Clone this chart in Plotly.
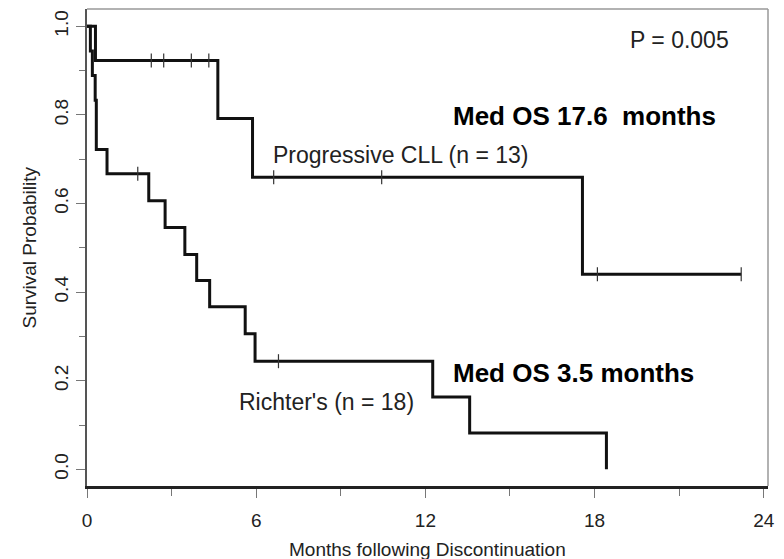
import plotly.graph_objects as go

# Kaplan-Meier step data
prog_times = [0, 0.30, 4.64, 5.87, 17.57, 23.2]
prog_surv = [1.0, 0.923, 0.792, 0.659, 0.440, 0.440]
prog_cens_t = [2.28, 2.72, 3.70, 4.32, 6.62, 10.45, 18.1, 23.2]
prog_cens_s = [0.923, 0.923, 0.923, 0.923, 0.659, 0.659, 0.440, 0.440]

rich_times = [0, 0.12, 0.19, 0.29, 0.33, 0.71, 2.19, 2.77, 3.47, 3.89, 4.35, 5.61, 5.96, 12.26, 13.57, 18.42]
rich_surv = [1.0, 0.944, 0.889, 0.833, 0.722, 0.667, 0.606, 0.546, 0.485, 0.426, 0.367, 0.306, 0.244, 0.163, 0.082, 0.0]
rich_cens_t = [1.80, 6.79]
rich_cens_s = [0.667, 0.244]

x_ticks = [0, 6, 12, 18, 24]
y_ticks = [0.0, 0.2, 0.4, 0.6, 0.8, 1.0]
y_ticklabels = ["0.0", "0.2", "0.4", "0.6", "0.8", "1.0"]

FONT = "Liberation Sans, Arial, sans-serif"
TXT = "#222222"

fig = go.Figure()
for t, s in [(prog_times, prog_surv), (rich_times, rich_surv)]:
    fig.add_trace(go.Scatter(x=t, y=s, mode="lines", line=dict(shape="hv", color="#111111", width=3),
                             showlegend=False, hoverinfo="skip"))
for t, s in [(prog_cens_t, prog_cens_s), (rich_cens_t, rich_cens_s)]:
    fig.add_trace(go.Scatter(x=t, y=s, mode="markers",
                             marker=dict(symbol="line-ns", size=10, line=dict(color="#333333", width=1.2)),
                             showlegend=False, hoverinfo="skip"))

fig.update_layout(
    width=784, height=559,
    margin=dict(l=87, r=16, t=9, b=73),
    paper_bgcolor="white", plot_bgcolor="white",
    font=dict(family=FONT, color=TXT, size=19),
    xaxis=dict(range=[0, 24.15], tickvals=x_ticks, ticktext=[str(v) for v in x_ticks],
               showgrid=False, zeroline=False, showline=True, linecolor="#222222", linewidth=2.5,
               ticks="outside", ticklen=9, tickcolor="#777777", tickwidth=1.2,
               minor=dict(tickvals=[3, 9, 15, 21], ticks="outside", ticklen=7, tickcolor="#777777", tickwidth=1.2),
               tickfont=dict(size=19, color=TXT), ticklabelstandoff=6),
    yaxis=dict(range=[-0.0377, 1.039], tickvals=y_ticks, ticktext=y_ticklabels, tickangle=-90,
               showgrid=False, zeroline=False, showline=True, linecolor="#555555", linewidth=2,
               ticks="outside", ticklen=9, tickcolor="#777777", tickwidth=1.2,
               minor=dict(tickvals=[0.1, 0.3, 0.5, 0.7, 0.9], ticks="outside", ticklen=6, tickcolor="#777777", tickwidth=1.2),
               tickfont=dict(size=19, color=TXT)),
    shapes=[
        dict(type="line", xref="paper", yref="paper", x0=0, x1=1, y0=1, y1=1, line=dict(color="#999999", width=1.5)),
        dict(type="line", xref="paper", yref="paper", x0=1, x1=1, y0=0, y1=1, line=dict(color="#999999", width=1.5)),
    ],
)

annos = [
    dict(text="P = 0.005", x=21.0, y=0.970, xanchor="center", font=dict(size=23)),
    dict(text="Med OS 17.6\u00a0 months", x=12.92, y=0.797, xanchor="left", font=dict(size=26, color="#000000", family=FONT), bold=True),
    dict(text="Progressive CLL (n = 13)", x=6.54, y=0.710, xanchor="left", font=dict(size=23)),
    dict(text="Med OS 3.5 months", x=12.92, y=0.217, xanchor="left", font=dict(size=26, color="#000000"), bold=True),
    dict(text="Richter's (n = 18)", x=5.32, y=0.152, xanchor="left", font=dict(size=23)),
]
for a in annos:
    bold = a.pop("bold", False)
    if bold:
        a["text"] = "<b>" + a["text"] + "</b>"
    fig.add_annotation(xref="x", yref="y", yanchor="middle", showarrow=False, **a)

fig.add_annotation(text="Months following Discontinuation", xref="paper", yref="paper",
                   x=(427 - 87) / 681, y=(485.7 - 549) / 476.7, xanchor="center", yanchor="middle",
                   showarrow=False, font=dict(size=19, color=TXT))
fig.add_annotation(text="Survival Probability", xref="paper", yref="paper",
                   x=(29 - 87) / 681, y=0.5, xanchor="center", yanchor="middle", textangle=-90,
                   showarrow=False, font=dict(size=19, color=TXT))

fig.write_html("out.html")
